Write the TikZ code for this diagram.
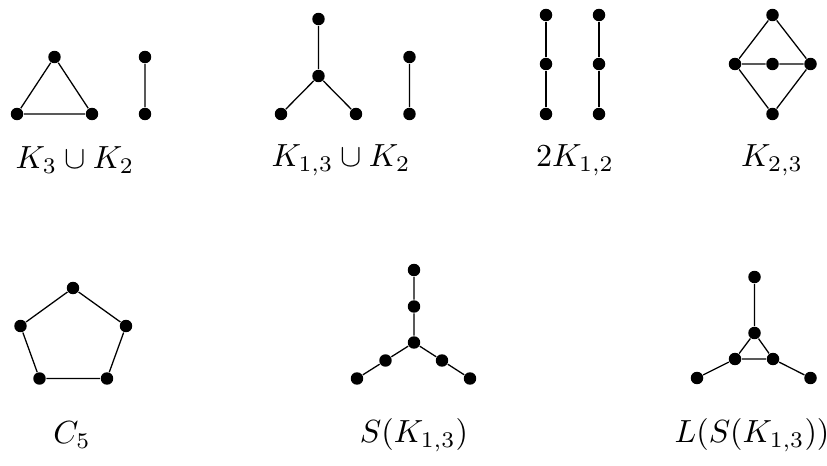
\documentclass[tikz,border=0pt]{standalone}
\usepackage{amsmath}
\usepackage{amssymb}
\usepackage{tikz}

\begin{document}
\begin{tikzpicture}[x=0.3125pt, y=-0.3125pt,
    vtx/.style={circle, fill, inner sep=0pt, minimum size=3.9pt},
    lbl/.style={font=\fontsize{9.6}{11}\selectfont}]
    \useasboundingbox (0,0) rectangle (827,465);
    % K_3 u K_2
    \node[vtx] (a1) at (54.5,57) {};
    \node[vtx] (a2) at (17,114) {};
    \node[vtx] (a3) at (92,114) {};
    \node[vtx] (a4) at (145,57) {};
    \node[vtx] (a5) at (145,114) {};
    \draw (a1) -- (a2) -- (a3) -- (a1) (a4) -- (a5);
    \node[lbl] (la) at (75,160) {$K_3\cup K_2$};
    % K_{1,3} u K_2
    \node[vtx] (b1) at (318.5,19) {};
    \node[vtx] (b0) at (318.5,76) {};
    \node[vtx] (b2) at (281,114) {};
    \node[vtx] (b3) at (356,114) {};
    \node[vtx] (b4) at (409.5,57) {};
    \node[vtx] (b5) at (409.5,114) {};
    \draw (b0) -- (b1) (b0) -- (b2) (b0) -- (b3) (b4) -- (b5);
    \node[lbl] (lb) at (341,160) {$K_{1,3}\cup K_2$};
    % 2K_{1,2}
    \node[vtx] (c1) at (546,15) {};
    \node[vtx] (c2) at (546,64) {};
    \node[vtx] (c3) at (546,114) {};
    \node[vtx] (c4) at (599,15) {};
    \node[vtx] (c5) at (599,64) {};
    \node[vtx] (c6) at (599,114) {};
    \draw (c1) -- (c2) -- (c3) (c4) -- (c5) -- (c6);
    \node[lbl] (lc) at (575,160) {$2K_{1,2}$};
    % K_{2,3}
    \node[vtx] (d1) at (772.5,15) {};
    \node[vtx] (d2) at (735,64) {};
    \node[vtx] (d3) at (772.5,64) {};
    \node[vtx] (d4) at (810.5,64) {};
    \node[vtx] (d5) at (772.5,114) {};
    \draw (d2) -- (d1) -- (d4) -- (d5) -- (d2) (d2) -- (d3) -- (d4);
    \node[lbl] (ld) at (772,160) {$K_{2,3}$};
    % C_5
    \node[vtx] (e1) at (73,288) {};
    \node[vtx] (e2) at (126,326) {};
    \node[vtx] (e3) at (107,378.5) {};
    \node[vtx] (e4) at (39.5,378.5) {};
    \node[vtx] (e5) at (20.5,326) {};
    \draw (e1) -- (e2) -- (e3) -- (e4) -- (e5) -- (e1);
    \node[lbl] (le) at (72,435) {$C_5$};
    % S(K_{1,3})
    \node[vtx] (f0) at (414,342.5) {};
    \node[vtx] (f1) at (414,306.5) {};
    \node[vtx] (f2) at (414,270) {};
    \node[vtx] (f3) at (385.5,360.5) {};
    \node[vtx] (f4) at (357,378.5) {};
    \node[vtx] (f5) at (442,360.5) {};
    \node[vtx] (f6) at (470,378.5) {};
    \draw (f2) -- (f1) -- (f0) -- (f3) -- (f4) (f0) -- (f5) -- (f6);
    \node[lbl] (lf) at (414,435) {$S(K_{1,3})$};
    % L(S(K_{1,3}))
    \node[vtx] (g1) at (754.5,277) {};
    \node[vtx] (g2) at (754.5,333) {};
    \node[vtx] (g3) at (735,359) {};
    \node[vtx] (g4) at (773,359) {};
    \node[vtx] (g5) at (697,378) {};
    \node[vtx] (g6) at (810.5,378) {};
    \draw (g1) -- (g2) -- (g3) -- (g4) -- (g2) (g3) -- (g5) (g4) -- (g6);
    \node[lbl] (lg) at (752,435) {$L(S(K_{1,3}))$};
\end{tikzpicture}
\end{document}
